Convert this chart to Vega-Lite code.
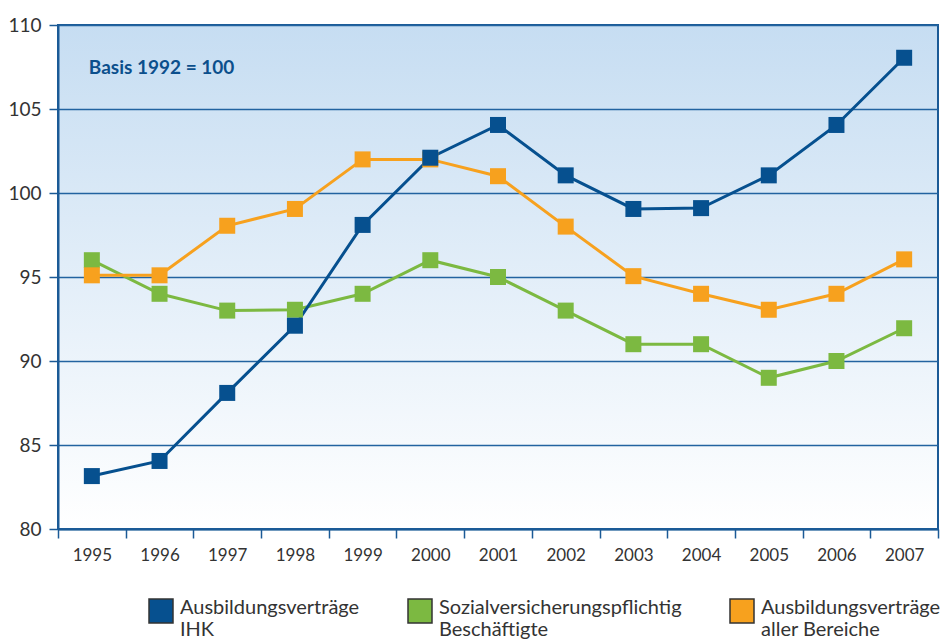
{
  "$schema": "https://vega.github.io/schema/vega-lite/v6.json",
  "width": 880,
  "height": 504,
  "autosize": {"type": "none"},
  "padding": {"left": 58, "top": 25, "right": 4, "bottom": 112},
  "background": "#ffffff",
  "config": {
    "font": "Lato",
    "view": {
      "stroke": "#1b5a96",
      "strokeWidth": 2,
      "fill": {"gradient": "linear", "x1": 0, "y1": 0, "x2": 0, "y2": 1,
        "stops": [{"offset": 0, "color": "#c6ddf2"}, {"offset": 1, "color": "#ffffff"}]}
    }
  },
  "data": {
    "values": [
      {"Jahr": "1995", "Reihe": "Sozial", "Wert": 96.0},
      {"Jahr": "1996", "Reihe": "Sozial", "Wert": 94.0},
      {"Jahr": "1997", "Reihe": "Sozial", "Wert": 93.0},
      {"Jahr": "1998", "Reihe": "Sozial", "Wert": 93.05},
      {"Jahr": "1999", "Reihe": "Sozial", "Wert": 94.0},
      {"Jahr": "2000", "Reihe": "Sozial", "Wert": 96.0},
      {"Jahr": "2001", "Reihe": "Sozial", "Wert": 95.0},
      {"Jahr": "2002", "Reihe": "Sozial", "Wert": 93.0},
      {"Jahr": "2003", "Reihe": "Sozial", "Wert": 91.0},
      {"Jahr": "2004", "Reihe": "Sozial", "Wert": 91.0},
      {"Jahr": "2005", "Reihe": "Sozial", "Wert": 89.0},
      {"Jahr": "2006", "Reihe": "Sozial", "Wert": 90.0},
      {"Jahr": "2007", "Reihe": "Sozial", "Wert": 91.95},
      {"Jahr": "1995", "Reihe": "Alle", "Wert": 95.1},
      {"Jahr": "1996", "Reihe": "Alle", "Wert": 95.1},
      {"Jahr": "1997", "Reihe": "Alle", "Wert": 98.05},
      {"Jahr": "1998", "Reihe": "Alle", "Wert": 99.05},
      {"Jahr": "1999", "Reihe": "Alle", "Wert": 102.0},
      {"Jahr": "2000", "Reihe": "Alle", "Wert": 102.0},
      {"Jahr": "2001", "Reihe": "Alle", "Wert": 101.0},
      {"Jahr": "2002", "Reihe": "Alle", "Wert": 98.0},
      {"Jahr": "2003", "Reihe": "Alle", "Wert": 95.05},
      {"Jahr": "2004", "Reihe": "Alle", "Wert": 94.0},
      {"Jahr": "2005", "Reihe": "Alle", "Wert": 93.05},
      {"Jahr": "2006", "Reihe": "Alle", "Wert": 94.0},
      {"Jahr": "2007", "Reihe": "Alle", "Wert": 96.05},
      {"Jahr": "1995", "Reihe": "IHK", "Wert": 83.15},
      {"Jahr": "1996", "Reihe": "IHK", "Wert": 84.05},
      {"Jahr": "1997", "Reihe": "IHK", "Wert": 88.1},
      {"Jahr": "1998", "Reihe": "IHK", "Wert": 92.1},
      {"Jahr": "1999", "Reihe": "IHK", "Wert": 98.1},
      {"Jahr": "2000", "Reihe": "IHK", "Wert": 102.1},
      {"Jahr": "2001", "Reihe": "IHK", "Wert": 104.05},
      {"Jahr": "2002", "Reihe": "IHK", "Wert": 101.05},
      {"Jahr": "2003", "Reihe": "IHK", "Wert": 99.05},
      {"Jahr": "2004", "Reihe": "IHK", "Wert": 99.1},
      {"Jahr": "2005", "Reihe": "IHK", "Wert": 101.05},
      {"Jahr": "2006", "Reihe": "IHK", "Wert": 104.05},
      {"Jahr": "2007", "Reihe": "IHK", "Wert": 108.05}
    ]
  },
  "encoding": {
    "x": {
      "field": "Jahr", "type": "ordinal",
      "scale": {"paddingInner": 0, "paddingOuter": 0},
      "axis": {
        "title": null, "labelAngle": 0, "tickBand": "extent",
        "domain": true, "domainColor": "#1b5a96", "domainWidth": 2,
        "tickColor": "#1b5a96", "tickWidth": 1.5, "tickSize": 9,
        "labelFontSize": 17, "labelColor": "#333333", "labelPadding": 9,
        "grid": false
      }
    },
    "y": {
      "field": "Wert", "type": "quantitative",
      "scale": {"domain": [80, 110], "nice": false, "zero": false},
      "axis": {
        "title": null, "values": [80, 85, 90, 95, 100, 105, 110],
        "domain": true, "domainColor": "#1b5a96", "domainWidth": 2,
        "grid": true, "gridColor": "#2263a0", "gridWidth": 1.3, "gridOpacity": 1,
        "tickColor": "#1b5a96", "tickWidth": 1.5, "tickSize": 9,
        "labelFontSize": 19, "labelColor": "#333333", "labelPadding": 8
      }
    }
  },
  "layer": [
    {
      "mark": {"type": "line", "strokeWidth": 3},
      "encoding": {
        "stroke": {
          "field": "Reihe", "type": "nominal", "legend": null,
          "scale": {"domain": ["Sozial", "Alle", "IHK"], "range": ["#7cb941", "#f7a11e", "#06508f"]}
        }
      }
    },
    {
      "mark": {"type": "point", "shape": "square", "filled": true, "size": 256, "opacity": 1},
      "encoding": {
        "fill": {
          "field": "Reihe", "type": "nominal",
          "scale": {"domain": ["IHK", "Sozial", "Alle"], "range": ["#06508f", "#7cb941", "#f7a11e"]},
          "legend": {
            "title": null, "orient": "none", "legendX": 90, "legendY": 573,
            "direction": "horizontal", "columns": 3, "columnPadding": 45,
            "symbolType": "square", "symbolSize": 576, "symbolStrokeColor": "#333333",
            "symbolStrokeWidth": 1.5, "symbolOpacity": 1,
            "labelFontSize": 20, "labelColor": "#333333", "labelOffset": 6,
            "labelBaseline": "alphabetic", "labelLimit": 400,
            "labelExpr": "datum.label == 'IHK' ? ['Ausbildungsverträge', 'IHK'] : datum.label == 'Sozial' ? ['Sozialversicherungspflichtig', 'Beschäftigte'] : ['Ausbildungsverträge', 'aller Bereiche']",
            "encode": {
              "symbols": {"update": {"stroke": {"value": "#333333"}, "strokeWidth": {"value": 1.5}}},
              "labels": {"update": {"dy": {"value": 3}}}
            }
          }
        }
      }
    },
    {
      "data": {"values": [{"Jahr": "1995", "Wert": 107.45, "Text": "Basis 1992 = 100"}]},
      "mark": {"type": "text", "align": "left", "baseline": "middle", "dx": -3, "fontSize": 19, "fontWeight": "bold", "color": "#0b4f8c"},
      "encoding": {"text": {"field": "Text"}}
    }
  ]
}
